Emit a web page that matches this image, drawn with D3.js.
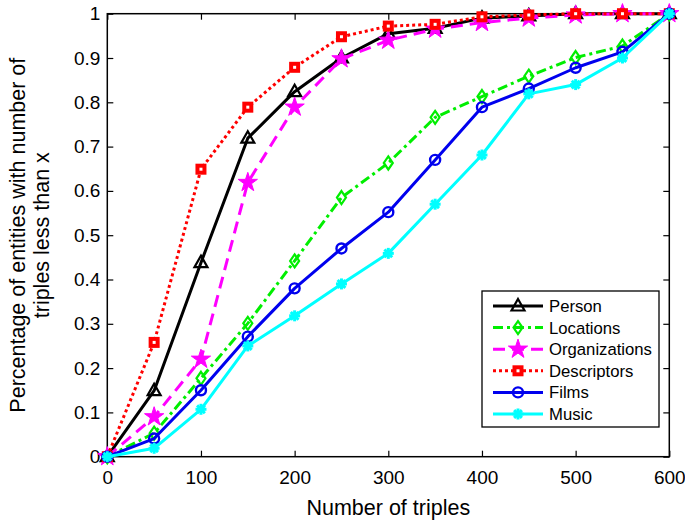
<!DOCTYPE html>
<html>
<head>
<meta charset="utf-8">
<script src="https://cdn.jsdelivr.net/npm/d3@7"></script>
<style>
  body { margin: 0; background: #fff; }
  text { font-family: "Liberation Sans", Arial, sans-serif; fill: #000; }
</style>
</head>
<body>
<svg id="chart" width="685" height="523"></svg>
<script>
// ---- data ----
const triples = [0, 50, 100, 150, 200, 250, 300, 350, 400, 450, 500, 550, 600];
const person = [0, 0.149, 0.438, 0.719, 0.824, 0.90, 0.955, 0.967, 0.99, 0.995, 1.0, 1.0, 1.0];
const locations = [0, 0.053, 0.177, 0.301, 0.442, 0.585, 0.663, 0.766, 0.813, 0.859, 0.901, 0.927, 1.0];
const organizations = [0, 0.09, 0.22, 0.619, 0.789, 0.898, 0.94, 0.965, 0.98, 0.99, 0.997, 1.0, 1.0];
const descriptors = [0, 0.258, 0.649, 0.789, 0.879, 0.948, 0.972, 0.976, 0.993, 0.997, 1.0, 1.0, 1.0];
const films = [0, 0.041, 0.15, 0.271, 0.38, 0.47, 0.552, 0.67, 0.789, 0.831, 0.878, 0.914, 1.0];
const music = [0, 0.019, 0.107, 0.25, 0.318, 0.39, 0.459, 0.57, 0.681, 0.819, 0.84, 0.90, 1.0];
const xTicks = [0, 100, 200, 300, 400, 500, 600];
const yTicks = [0, 0.1, 0.2, 0.3, 0.4, 0.5, 0.6, 0.7, 0.8, 0.9, 1];

const series = [
  {name: 'Person', values: person, color: '#000000', dash: null, marker: 'triangle'},
  {name: 'Locations', values: locations, color: '#00ee00', dash: '10,4,3,4', marker: 'diamond'},
  {name: 'Organizations', values: organizations, color: '#ff00ff', dash: '12,7', marker: 'star'},
  {name: 'Descriptors', values: descriptors, color: '#ff0000', dash: '3,3', marker: 'square'},
  {name: 'Films', values: films, color: '#0000ee', dash: null, marker: 'circle'},
  {name: 'Music', values: music, color: '#00ffff', dash: null, marker: 'asterisk'}
];

// ---- layout ----
const svg = d3.select('#chart');
const m = {left: 107.3, top: 13.7, right: 669.3, bottom: 456.7};
const x = d3.scaleLinear().domain([0, 600]).range([m.left, m.right]);
const y = d3.scaleLinear().domain([0, 1]).range([m.bottom, m.top]);

// ---- axes (inward ticks, box) ----
const tickLen = 6;
svg.append('g').attr('transform', `translate(0,${m.bottom})`)
  .call(d3.axisBottom(x).tickValues(xTicks).tickSizeInner(-tickLen).tickSizeOuter(0).tickPadding(14))
  .call(g => g.select('.domain').remove())
  .selectAll('text').style('font-size', '19px');
svg.append('g').attr('transform', `translate(0,${m.top})`)
  .call(d3.axisTop(x).tickValues(xTicks).tickSizeInner(-tickLen).tickSizeOuter(0).tickFormat(''))
  .call(g => g.select('.domain').remove());
svg.append('g').attr('transform', `translate(${m.left},0)`)
  .call(d3.axisLeft(y).tickValues(yTicks).tickSizeInner(-tickLen).tickSizeOuter(0).tickPadding(7)
    .tickFormat(d => d === 0 ? '0' : d === 1 ? '1' : d3.format('.1f')(d)))
  .call(g => g.select('.domain').remove())
  .selectAll('text').style('font-size', '19px');
svg.append('g').attr('transform', `translate(${m.right},0)`)
  .call(d3.axisRight(y).tickValues(yTicks).tickSizeInner(-tickLen).tickSizeOuter(0).tickFormat(''))
  .call(g => g.select('.domain').remove());
svg.selectAll('.tick line').attr('stroke', '#000').attr('stroke-width', 1.2);
svg.append('rect')
  .attr('x', m.left).attr('y', m.top)
  .attr('width', m.right - m.left).attr('height', m.bottom - m.top)
  .attr('fill', 'none').attr('stroke', '#000').attr('stroke-width', 1.5);

// ---- labels ----
svg.append('text')
  .attr('x', (m.left + m.right) / 2).attr('y', 515)
  .attr('text-anchor', 'middle').style('font-size', '21.5px')
  .text('Number of triples');
const yl = svg.append('text')
  .attr('transform', `translate(25,${(m.top + m.bottom) / 2}) rotate(-90)`)
  .attr('text-anchor', 'middle').style('font-size', '21.5px');
yl.append('tspan').attr('x', 0).attr('dy', 0).text('Percentage of entities with number of');
yl.append('tspan').attr('x', 0).attr('dy', 24).text('triples less than x');

// ---- markers ----
function drawMarker(g, type, color) {
  switch (type) {
    case 'triangle':
      g.append('path').attr('d', 'M0,-7L6.5,4.5L-6.5,4.5Z')
        .attr('fill', 'none').attr('stroke', color).attr('stroke-width', 2.2);
      break;
    case 'diamond':
      g.append('path').attr('d', 'M0,-6.5L4.5,0L0,6.5L-4.5,0Z')
        .attr('fill', 'none').attr('stroke', color).attr('stroke-width', 2.2);
      break;
    case 'star':
      g.append('path').attr('d', d3.symbol(d3.symbolStar, 115)())
        .attr('fill', color).attr('stroke', color).attr('stroke-width', 1);
      break;
    case 'square':
      g.append('rect').attr('x', -3.5).attr('y', -3.5).attr('width', 7).attr('height', 7)
        .attr('fill', '#fff').attr('stroke', color).attr('stroke-width', 4);
      break;
    case 'circle':
      g.append('circle').attr('r', 5)
        .attr('fill', 'none').attr('stroke', color).attr('stroke-width', 2.4);
      break;
    case 'asterisk':
      [0, 45, 90, 135].forEach(a => {
        g.append('line').attr('x1', 0).attr('y1', -5.5).attr('x2', 0).attr('y2', 5.5)
          .attr('transform', `rotate(${a})`)
          .attr('stroke', color).attr('stroke-width', 3);
      });
      g.append('circle').attr('r', 3.5).attr('fill', color);
      break;
  }
}

// ---- series ----
const line = d3.line().x((d, i) => x(triples[i])).y(d => y(d));
series.forEach(s => {
  const g = svg.append('g');
  g.append('path').datum(s.values).attr('d', line)
    .attr('fill', 'none').attr('stroke', s.color).attr('stroke-width', 3)
    .attr('stroke-dasharray', s.dash).attr('stroke-linejoin', 'round');
  s.values.forEach((v, i) => {
    const mg = g.append('g').attr('transform', `translate(${x(triples[i])},${y(v)})`);
    drawMarker(mg, s.marker, s.color);
  });
});

// ---- legend ----
const lg = svg.append('g').attr('transform', 'translate(482,291)');
lg.append('rect').attr('width', 177).attr('height', 136)
  .attr('fill', '#fff').attr('stroke', '#000').attr('stroke-width', 1.3);
series.forEach((s, i) => {
  const yy = 15 + i * 21.6;
  lg.append('line').attr('x1', 11).attr('x2', 61).attr('y1', yy).attr('y2', yy)
    .attr('stroke', s.color).attr('stroke-width', 3).attr('stroke-dasharray', s.dash);
  const mg = lg.append('g').attr('transform', `translate(36,${yy})`);
  drawMarker(mg, s.marker, s.color);
  lg.append('text').attr('x', 67).attr('y', yy).attr('dy', '0.36em')
    .style('font-size', '16.7px').text(s.name);
});
</script>
</body>
</html>
